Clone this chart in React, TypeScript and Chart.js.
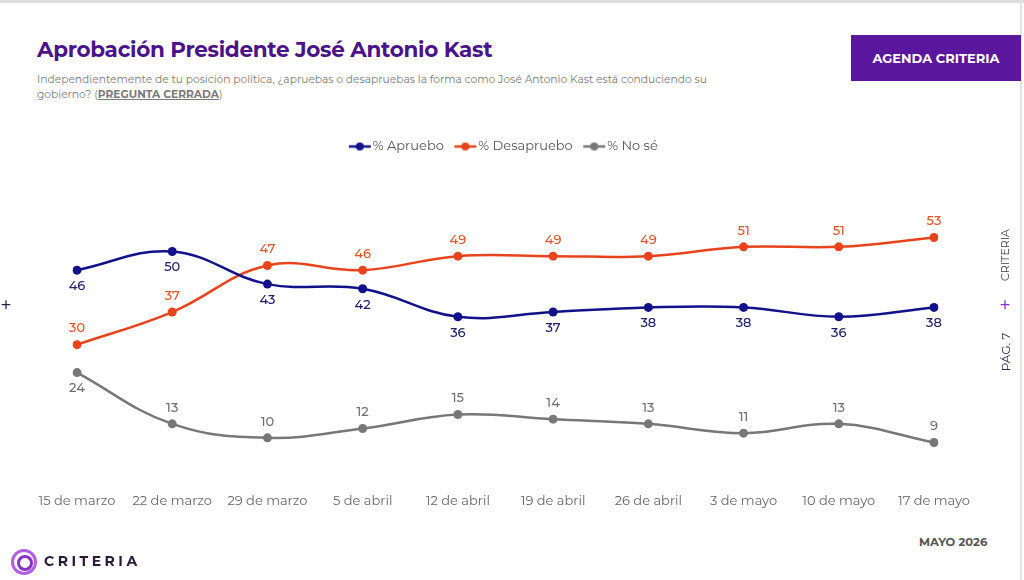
import React, { useEffect, useRef } from "react";
import { Chart, registerables } from "chart.js";

Chart.register(...registerables);

const categories = [
  "15 de marzo",
  "22 de marzo",
  "29 de marzo",
  "5 de abril",
  "12 de abril",
  "19 de abril",
  "26 de abril",
  "3 de mayo",
  "10 de mayo",
  "17 de mayo",
];
const apruebo = [46, 50, 43, 42, 36, 37, 38, 38, 36, 38];
const desapruebo = [30, 37, 47, 46, 49, 49, 49, 51, 51, 53];
const noSe = [24, 13, 10, 12, 15, 14, 13, 11, 13, 9];

const seriesNames = ["% Apruebo", "% Desapruebo", "% No sé"];

const COLORS = ["#11118a", "#e8441c", "#777777"];
const LABEL_COLORS = ["#20206a", "#e0562c", "#717171"];
// label side per series: 1 = below, -1 = above
const LABEL_SIDE: number[][] = [
  [1, 1, 1, 1, 1, 1, 1, 1, 1, 1],
  [-1, -1, -1, -1, -1, -1, -1, -1, -1, -1],
  [1, -1, -1, -1, -1, -1, -1, -1, -1, -1],
];

const FONT = "'Montserrat', 'Noto Sans', 'Open Sans', sans-serif";

function makeLegendIcon(color: string) {
  const c = document.createElement("canvas");
  const w = 24;
  const h = 10;
  c.width = w;
  c.height = h;
  const ctx = c.getContext("2d")!;
  ctx.strokeStyle = color;
  ctx.lineWidth = 2.5;
  ctx.beginPath();
  ctx.moveTo(1, h / 2);
  ctx.lineTo(w - 1, h / 2);
  ctx.stroke();
  ctx.fillStyle = color;
  ctx.beginPath();
  ctx.arc(w / 2, h / 2, 4, 0, Math.PI * 2);
  ctx.fill();
  return c;
}

const valueLabels = {
  id: "valueLabels",
  afterDatasetsDraw(chart: any) {
    const ctx = chart.ctx;
    ctx.save();
    ctx.font = `500 13px ${FONT}`;
    ctx.textAlign = "center";
    ctx.textBaseline = "middle";
    chart.data.datasets.forEach((ds: any, i: number) => {
      const meta = chart.getDatasetMeta(i);
      meta.data.forEach((pt: any, j: number) => {
        const side = LABEL_SIDE[i][j];
        ctx.fillStyle = LABEL_COLORS[i];
        ctx.fillText(String(ds.data[j]), pt.x, pt.y + side * 16);
      });
    });
    ctx.restore();
  },
};

function ChartView() {
  const ref = useRef<HTMLCanvasElement | null>(null);
  useEffect(() => {
    if (!ref.current) return;
    const values = [apruebo, desapruebo, noSe];
    const chart = new Chart(ref.current, {
      type: "line",
      data: {
        labels: categories,
        datasets: values.map((v, i) => ({
          label: seriesNames[i],
          data: v,
          borderColor: COLORS[i],
          backgroundColor: COLORS[i],
          pointBackgroundColor: COLORS[i],
          pointBorderColor: COLORS[i],
          pointBorderWidth: 0,
          pointStyle: "circle",
          pointRadius: 4.5,
          pointHoverRadius: 4.5,
          borderWidth: 2.5,
          tension: 0.4,
        })),
      },
      options: {
        animation: false,
        responsive: false,
        maintainAspectRatio: false,
        layout: { padding: { left: 77, right: 90, top: 0, bottom: 2 } },
        plugins: {
          tooltip: { enabled: false },
          legend: {
            display: true,
            position: "top",
            labels: {
              usePointStyle: true,
              padding: 15,
              color: "#555555",
              font: { family: FONT, size: 13 },
              generateLabels: (ch: any) =>
                ch.data.datasets.map((ds: any, i: number) => ({
                  text: ds.label,
                  fillStyle: COLORS[i],
                  strokeStyle: COLORS[i],
                  fontColor: "#555555",
                  pointStyle: makeLegendIcon(COLORS[i]),
                  lineWidth: 0,
                  hidden: false,
                  datasetIndex: i,
                })),
            },
          },
        },
        scales: {
          x: {
            offset: false,
            grid: { display: false, drawTicks: false },
            border: { display: false },
            ticks: {
              padding: 9,
              color: "#666666",
              font: { family: FONT, size: 13 },
              maxRotation: 0,
              autoSkip: false,
            },
          },
          y: {
            display: false,
            min: 0,
            max: 69,
          },
        },
      },
      plugins: [valueLabels],
    });
    return () => chart.destroy();
  }, []);
  return (
    <canvas
      ref={ref}
      width={1024}
      height={395}
      style={{ position: "absolute", left: 0, top: 125, width: 1024, height: 395 }}
    />
  );
}

export default function App() {
  return (
    <div
      style={{
        position: "fixed",
        left: 0,
        top: 0,
        width: 1024,
        height: 580,
        background: "#ffffff",
        overflow: "hidden",
        fontFamily: FONT,
      }}
    >
      <div style={{ position: "absolute", left: 0, top: 0, width: 1024, height: 3, background: "#dcdcdc" }} />
      <div style={{ position: "absolute", left: 1020, top: 0, width: 2, height: 580, background: "#e4e4e4" }} />
      <div
        style={{
          position: "absolute",
          left: 37,
          top: 36,
          fontSize: 21.5,
          fontWeight: 700,
          color: "#4a1488",
          letterSpacing: -0.3,
        }}
      >
        Aprobación Presidente José Antonio Kast
      </div>
      <div
        style={{
          position: "absolute",
          left: 37,
          top: 72,
          width: 690,
          fontSize: 10.7,
          lineHeight: "15px",
          color: "#7a7a7a",
        }}
      >
        Independientemente de tu posición política, ¿apruebas o desapruebas la forma como José Antonio Kast está conduciendo su gobierno? (
        <span style={{ fontWeight: 700, textDecoration: "underline" }}>PREGUNTA CERRADA</span>)
      </div>
      <div
        style={{
          position: "absolute",
          left: 851,
          top: 35,
          width: 170,
          height: 46,
          background: "#5a169c",
          color: "#ffffff",
          fontWeight: 700,
          fontSize: 13,
          display: "flex",
          alignItems: "center",
          justifyContent: "center",
        }}
      >
        AGENDA CRITERIA
      </div>
      <ChartView />
      <div
        style={{
          position: "absolute",
          left: 6,
          top: 305,
          transform: "translate(-50%, -50%)",
          fontSize: 20,
          color: "#2a1a50",
        }}
      >
        +
      </div>
      <div
        style={{
          position: "absolute",
          left: 1005,
          top: 255,
          transform: "translate(-50%, -50%) rotate(-90deg)",
          fontSize: 11,
          color: "#444444",
          whiteSpace: "nowrap",
        }}
      >
        CRITERIA
      </div>
      <div
        style={{
          position: "absolute",
          left: 1005,
          top: 305,
          transform: "translate(-50%, -50%)",
          fontSize: 20,
          color: "#8a2be2",
        }}
      >
        +
      </div>
      <div
        style={{
          position: "absolute",
          left: 1005,
          top: 352,
          transform: "translate(-50%, -50%) rotate(-90deg)",
          fontSize: 12,
          color: "#3a2060",
          whiteSpace: "nowrap",
        }}
      >
        PÁG. 7
      </div>
      <div
        style={{
          position: "absolute",
          left: 919,
          top: 535,
          fontSize: 11.5,
          fontWeight: 700,
          color: "#555555",
        }}
      >
        MAYO 2026
      </div>
      <div style={{ position: "absolute", left: 11, top: 549, width: 26, height: 26 }}>
        <div
          style={{
            position: "absolute",
            left: 0,
            top: 0,
            width: 20,
            height: 20,
            borderRadius: "50%",
            border: "3px solid #b060e0",
          }}
        />
        <div
          style={{
            position: "absolute",
            left: 6,
            top: 6,
            width: 10,
            height: 10,
            borderRadius: "50%",
            border: "3px solid #8a30c8",
          }}
        />
      </div>
      <div
        style={{
          position: "absolute",
          left: 44,
          top: 552,
          fontSize: 14,
          fontWeight: 700,
          letterSpacing: 3.5,
          color: "#2a1a3a",
        }}
      >
        CRITERIA
      </div>
    </div>
  );
}
